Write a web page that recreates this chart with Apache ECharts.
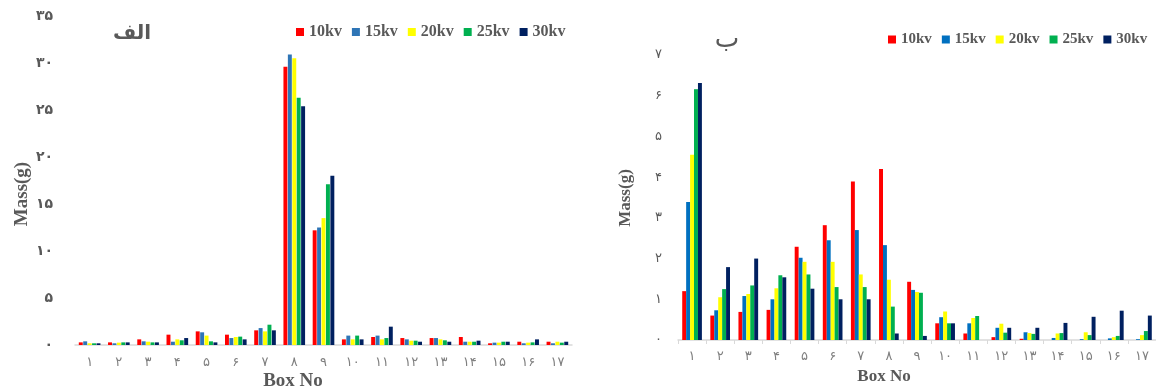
<!DOCTYPE html>
<html>
<head>
<meta charset="utf-8">
<script src="https://cdn.jsdelivr.net/npm/echarts@6/dist/echarts.min.js"></script>
<style>
html,body{margin:0;padding:0;background:#fff;}
#chart{width:1156px;height:390px;}
</style>
</head>
<body>
<div id="chart"></div>
<script>
// ---------- data ----------
const boxNumbers = [1,2,3,4,5,6,7,8,9,10,11,12,13,14,15,16,17];
const seriesNames = ['10kv','15kv','20kv','25kv','30kv'];
const faDigits = ['۰','۱','۲','۳','۴','۵','۶','۷','۸','۹'];

// Panel الف (left)
const leftTitle = 'الف';
const left10 = [0.28,0.28,0.60,1.10,1.45,1.10,1.56,29.6,12.2,0.60,0.85,0.74,0.74,0.85,0.18,0.35,0.35];
const left15 = [0.39,0.18,0.39,0.35,1.35,0.74,1.80,30.9,12.5,1.00,1.00,0.60,0.74,0.35,0.25,0.18,0.18];
const left20 = [0.18,0.25,0.35,0.60,1.00,0.85,1.45,30.5,13.5,0.60,0.60,0.46,0.60,0.35,0.25,0.25,0.35];
const left25 = [0.18,0.28,0.28,0.50,0.39,0.89,2.16,26.3,17.1,1.00,0.74,0.46,0.50,0.35,0.35,0.28,0.25];
const left30 = [0.18,0.28,0.28,0.74,0.28,0.60,1.56,25.4,18.0,0.60,1.95,0.35,0.35,0.46,0.35,0.60,0.35];
const leftYMax = 35, leftYStep = 5;

// Panel ب (right)
const rightTitle = 'ب';
const right10 = [1.20,0.60,0.69,0.74,2.29,2.82,3.89,4.20,1.43,0.41,0.16,0.07,0.03,0.00,0.00,0.00,0.00];
const right15 = [3.39,0.73,1.08,1.00,2.02,2.45,2.70,2.33,1.23,0.56,0.41,0.30,0.19,0.05,0.02,0.04,0.02];
const right20 = [4.55,1.05,1.13,1.27,1.92,1.92,1.61,1.48,1.18,0.70,0.54,0.40,0.17,0.16,0.19,0.07,0.12];
const right25 = [6.16,1.25,1.34,1.59,1.61,1.30,1.30,0.82,1.16,0.41,0.59,0.18,0.15,0.17,0.12,0.10,0.22];
const right30 = [6.31,1.79,2.00,1.54,1.26,1.00,1.00,0.16,0.10,0.41,0.00,0.30,0.30,0.42,0.57,0.72,0.60];
const rightYMax = 7, rightYStep = 1;

const xAxisName = 'Box No';
const yAxisName = 'Mass(g)';

const leftColors  = ['#FF0000','#2E75B6','#FFFF00','#00B050','#002060'];
const rightColors = ['#FF0000','#0070C0','#FFFF00','#00B050','#002060'];

// ---------- helpers ----------
function toFa(v){ return String(v).replace(/\d/g, d => faDigits[+d]); }
const catLabels = boxNumbers.map(toFa);

const serif = '"Liberation Serif","Times New Roman",serif';
const arabicFont = '"DejaVu Sans",sans-serif';
const gray = '#595959';

const leftData = [left10,left15,left20,left25,left30];
const rightData = [right10,right15,right20,right25,right30];

const series = [];
seriesNames.forEach((n,i)=>{
  series.push({
    name:n, type:'bar', xAxisIndex:0, yAxisIndex:0,
    data:leftData[i], barGap:'12%', barCategoryGap:'26%',
    itemStyle:{color:leftColors[i]}, animation:false
  });
});
seriesNames.forEach((n,i)=>{
  series.push({
    name:n, type:'bar', xAxisIndex:1, yAxisIndex:1,
    data:rightData[i], barGap:'0%', barCategoryGap:'30%',
    itemStyle:{color:rightColors[i]}, animation:false
  });
});

const chart = echarts.init(document.getElementById('chart'), null, {renderer:'canvas'});
const option = {
  backgroundColor:'#ffffff',
  animation:false,
  legend:[
    {
      left:296, top:24, padding:0, itemWidth:8, itemHeight:8, itemGap:10,
      icon:'rect', selectedMode:false,
      textStyle:{fontFamily:serif, fontWeight:'bold', fontSize:16, color:gray},
      data:seriesNames.map((n,i)=>({name:n, itemStyle:{color:leftColors[i]}}))
    },
    {
      left:888, top:32, padding:0, width:268, itemWidth:8, itemHeight:8, itemGap:10,
      icon:'rect', selectedMode:false,
      textStyle:{fontFamily:serif, fontWeight:'bold', fontSize:15, color:gray},
      data:seriesNames.map((n,i)=>({name:n, itemStyle:{color:rightColors[i]}}))
    }
  ],
  grid:[
    {left:75, top:16, width:497, height:329},
    {left:678, top:55, width:478, height:285}
  ],
  xAxis:[
    {
      type:'category', gridIndex:0, data:catLabels,
      axisLine:{lineStyle:{color:'#D9D9D9', width:1.5}},
      axisTick:{show:false},
      axisLabel:{fontFamily:arabicFont, fontSize:13, color:'#7F7F7F', margin:11}
    },
    {
      type:'category', gridIndex:1, data:catLabels,
      axisLine:{lineStyle:{color:'#D9D9D9', width:1.5}},
      axisTick:{show:true, length:4, lineStyle:{color:'#D9D9D9'}},
      axisLabel:{fontFamily:arabicFont, fontSize:13, color:'#7F7F7F', margin:10}
    }
  ],
  yAxis:[
    {
      type:'value', gridIndex:0, min:0, max:leftYMax, interval:leftYStep,
      axisLine:{show:false}, axisTick:{show:false}, splitLine:{show:false},
      axisLabel:{fontFamily:arabicFont, fontWeight:'bold', fontSize:14, color:gray, margin:22,
        formatter:v=>toFa(v)}
    },
    {
      type:'value', gridIndex:1, min:0, max:rightYMax, interval:rightYStep,
      axisLine:{show:false}, axisTick:{show:false}, splitLine:{show:false},
      axisLabel:{fontFamily:arabicFont, fontSize:13, color:gray, margin:16,
        formatter:v=>toFa(v)}
    }
  ],
  graphic:[
    {type:'text', x:132, y:34,
      style:{text:leftTitle, font:'bold 20px "DejaVu Sans"', fill:gray, align:'center', verticalAlign:'middle'}},
    {type:'text', x:727, y:40,
      style:{text:rightTitle, font:'26px "DejaVu Sans"', fill:gray, align:'center', verticalAlign:'middle'}},
    {type:'text', x:22, y:194, rotation:Math.PI/2,
      style:{text:yAxisName, font:'bold 19px "Liberation Serif"', fill:gray, align:'center', verticalAlign:'middle'}},
    {type:'text', x:626, y:198, rotation:Math.PI/2,
      style:{text:yAxisName, font:'bold 17px "Liberation Serif"', fill:gray, align:'center', verticalAlign:'middle'}},
    {type:'text', x:293, y:381,
      style:{text:xAxisName, font:'bold 19px "Liberation Serif"', fill:gray, align:'center', verticalAlign:'middle'}},
    {type:'text', x:884, y:377,
      style:{text:xAxisName, font:'bold 17px "Liberation Serif"', fill:gray, align:'center', verticalAlign:'middle'}}
  ],
  series:series
};
chart.setOption(option);
</script>
</body>
</html>
